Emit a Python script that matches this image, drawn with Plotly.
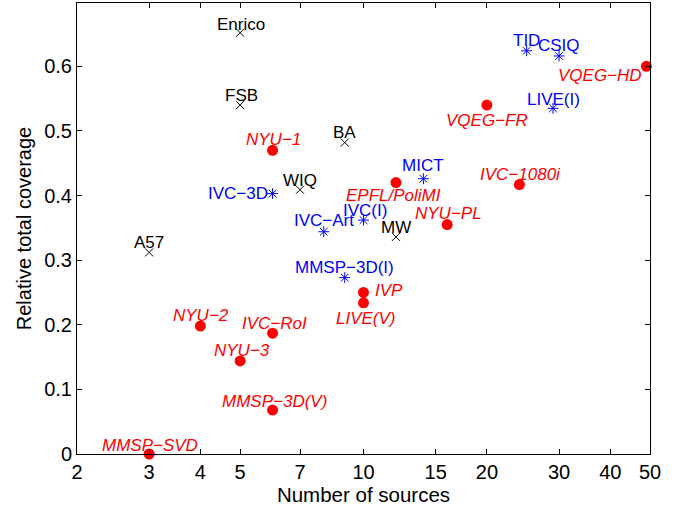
import numpy as np
import plotly.graph_objects as go

# ---- data ----
black_names = ["Enrico", "FSB", "BA", "WIQ", "A57", "MW"]
black_x = [5, 5, 9, 7, 3, 12]
black_y = [0.652, 0.540, 0.482, 0.409, 0.312, 0.336]

blue_names = ["IVC\u22123D", "IVC\u2212Art", "IVC(I)", "MMSP\u22123D(I)", "MICT", "TID", "CSIQ", "LIVE(I)"]
blue_x = [6, 8, 10, 9, 14, 25, 30, 29]
blue_y = [0.403, 0.344, 0.362, 0.273, 0.426, 0.624, 0.616, 0.535]

red_names = ["NYU\u22121", "EPFL/PoliMI", "VQEG\u2212FR", "VQEG\u2212HD", "IVC\u22121080i", "NYU\u2212PL",
             "IVP", "LIVE(V)", "NYU\u22122", "IVC\u2212RoI", "NYU\u22123", "MMSP\u22123D(V)", "MMSP\u2212SVD"]
red_x = [6, 12, 20, 49, 24, 16, 10, 10, 4, 6, 5, 6, 3]
red_y = [0.470, 0.420, 0.540, 0.600, 0.417, 0.355, 0.250, 0.234, 0.198, 0.187, 0.144, 0.068, 0.0]

x_ticks = [2, 3, 4, 5, 7, 10, 15, 20, 30, 40, 50]
x_ticktext = ["2", "3", "4", "5", "7", "10", "15", "20", "30", "40", "50"]
y_ticks = [0, 0.1, 0.2, 0.3, 0.4, 0.5, 0.6]
y_ticktext = ["0", "0.1", "0.2", "0.3", "0.4", "0.5", "0.6"]

# ---- label placement (anchor, xshift px, yshift px) ----
label_pos = {
    "Enrico": ("center", 1, 8), "FSB": ("center", 1, 10), "BA": ("center", 0, 10),
    "WIQ": ("center", 0, 9), "A57": ("center", 0, 10), "MW": ("center", 0, 9),
    "IVC\u22123D": ("right", -3, 0), "IVC\u2212Art": ("center", 0, 11.5), "IVC(I)": ("center", 1, 10),
    "MMSP\u22123D(I)": ("center", 0, 10), "MICT": ("center", 0, 13), "TID": ("center", 0, 10),
    "CSIQ": ("center", 0, 10), "LIVE(I)": ("center", 0, 9),
    "NYU\u22121": ("center", 1, 10.5), "EPFL/PoliMI": ("center", -2, -13), "VQEG\u2212FR": ("center", 0, -15.5),
    "VQEG\u2212HD": ("right", -2, -9.5), "IVC\u22121080i": ("center", 1, 10), "NYU\u2212PL": ("center", 1, 11),
    "IVP": ("left", 9, 2), "LIVE(V)": ("center", 2, -16), "NYU\u22122": ("center", 1, 11),
    "IVC\u2212RoI": ("center", 1.5, 10), "NYU\u22123": ("center", 1.5, 10),
    "MMSP\u22123D(V)": ("center", 1.5, 9), "MMSP\u2212SVD": ("center", 1, 9),
}

FONT = "Liberation Sans, Arial, Helvetica, sans-serif"

# the horizontal axis is logarithmic: positions are log10 of the source counts
lx = np.log10

fig = go.Figure()
fig.add_trace(go.Scatter(x=lx(black_x), y=black_y, mode="markers",
                         marker=dict(symbol="x-thin-open", size=8, color="black",
                                     line=dict(width=1, color="black")), showlegend=False))
fig.add_trace(go.Scatter(x=lx(blue_x), y=blue_y, mode="markers",
                         marker=dict(symbol="asterisk-open", size=9, color="blue",
                                     line=dict(width=1, color="blue")), showlegend=False))
fig.add_trace(go.Scatter(x=lx(red_x), y=red_y, mode="markers",
                         marker=dict(symbol="circle", size=11, color="red", line=dict(width=0)),
                         showlegend=False, cliponaxis=False))

annotations = []
for names, xs, ys, color, italic in [(black_names, black_x, black_y, "black", False),
                                     (blue_names, blue_x, blue_y, "blue", False),
                                     (red_names, red_x, red_y, "red", True)]:
    for n, xv, yv in zip(names, xs, ys):
        anc, dx, dy = label_pos[n]
        annotations.append(dict(
            x=float(lx(xv)), y=yv, xref="x", yref="y", text=n, showarrow=False,
            xanchor=anc, yanchor="middle", xshift=dx, yshift=dy,
            font=dict(family=FONT, size=17, color=color,
                      style="italic" if italic else "normal")))

axis_common = dict(showline=True, linecolor="black", linewidth=1, mirror="allticks",
                   ticks="inside", ticklen=5, tickcolor="black", showgrid=False, zeroline=False,
                   tickfont=dict(family=FONT, size=20, color="black"))

fig.update_layout(
    width=688, height=510, plot_bgcolor="white", paper_bgcolor="white",
    margin=dict(l=77, r=38, t=3, b=56),
    annotations=annotations,
    xaxis=dict(range=[lx(2), lx(50)], tickmode="array", tickvals=list(lx(x_ticks)),
               ticktext=x_ticktext,
               title=dict(text="Number of sources", font=dict(family=FONT, size=20.5, color="black"),
                          standoff=5),
               **axis_common),
    yaxis=dict(range=[0, 0.698], tickvals=y_ticks, ticktext=y_ticktext,
               title=dict(text="Relative total coverage", font=dict(family=FONT, size=20, color="black"),
                          standoff=7),
               **axis_common),
)

fig.write_html("out.html")
